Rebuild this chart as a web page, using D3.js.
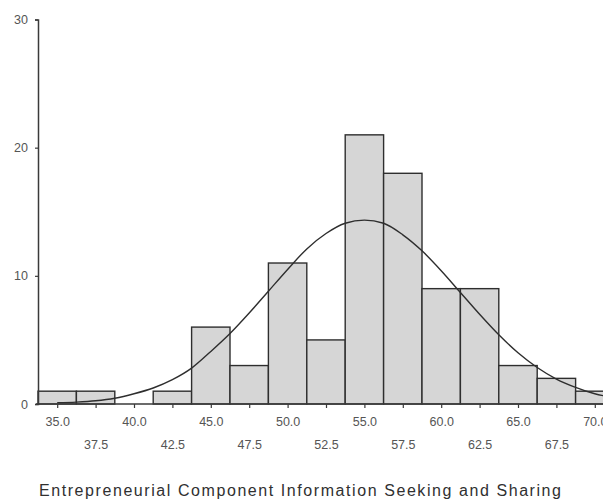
<!DOCTYPE html>
<html>
<head>
<meta charset="utf-8">
<script src="https://cdn.jsdelivr.net/npm/d3@7"></script>
<style>
  body { margin: 0; background: #fff; }
  svg { display: block; font-family: "Liberation Sans", Arial, sans-serif; }
</style>
</head>
<body>
<script>
// bin midpoints and counts
const binMids = [35.0, 37.5, 40.0, 42.5, 45.0, 47.5, 50.0, 52.5, 55.0, 57.5, 60.0, 62.5, 65.0, 67.5, 70.0];
const binCounts = [1, 1, 0, 1, 6, 3, 11, 5, 21, 18, 9, 9, 3, 2, 1];
const binWidth = 2.5;

// fitted normal curve, heights read at bin edges / midpoints
const curveX = [35, 36.25, 37.5, 38.75, 40, 41.25, 42.5, 43.75, 45, 46.25, 47.5, 48.75, 50, 51.25, 52.5,
  53.75, 55, 56.25, 57.5, 58.75, 60, 61.25, 62.5, 63.75, 65, 66.25, 67.5, 68.75, 70, 71.25, 72.5];
const curveY = [0.1, 0.15, 0.25, 0.45, 0.8, 1.25, 1.9, 2.8, 4.1, 5.5, 7.1, 8.8, 10.5, 12.1, 13.3,
  14.1, 14.35, 14.1, 13.2, 11.95, 10.4, 8.7, 7.0, 5.4, 4.0, 2.85, 1.95, 1.3, 0.8, 0.5, 0.3];

const yTicks = [0, 10, 20, 30];
const xTitle = "Entrepreneurial Component Information Seeking and Sharing";

const width = 603, height = 500;
const x = d3.scaleLinear().domain([33.75, 71.25]).range([38, 614]);
const y = d3.scaleLinear().domain([0, 30]).range([404, 19.5]);

const svg = d3.select("body").append("svg")
  .attr("width", width)
  .attr("height", height);

// bars
svg.append("g").selectAll("rect")
  .data(binMids.map((m, i) => ({ m: m, c: binCounts[i] })).filter(d => d.c > 0))
  .enter().append("rect")
  .attr("x", d => x(d.m - binWidth / 2))
  .attr("y", d => y(d.c))
  .attr("width", d => x(d.m + binWidth / 2) - x(d.m - binWidth / 2))
  .attr("height", d => y(0) - y(d.c))
  .attr("fill", "#d6d6d6")
  .attr("stroke", "#2e2e2e")
  .attr("stroke-width", 1.4);

// normal curve
const line = d3.line()
  .x((d, i) => x(curveX[i]))
  .y(d => y(d))
  .curve(d3.curveMonotoneX);

svg.append("path")
  .datum(curveY)
  .attr("fill", "none")
  .attr("stroke", "#2e2e2e")
  .attr("stroke-width", 1.4)
  .attr("d", line);

// y axis
const yAxis = svg.append("g")
  .attr("transform", "translate(" + x(33.75) + ",0)")
  .call(d3.axisLeft(y).tickValues(yTicks).tickSize(3).tickPadding(7).tickFormat(d3.format("d")));

// x axis
const xAxis = svg.append("g")
  .attr("transform", "translate(0," + y(0) + ")")
  .call(d3.axisBottom(x).tickValues(binMids).tickSize(4).tickPadding(9).tickFormat(d3.format(".1f")));

xAxis.select(".domain").attr("d", "M" + (x(33.75) - 2) + ",0H" + width);

xAxis.selectAll(".tick text")
  .attr("y", (d, i) => i % 2 ? 36 : 13);

[yAxis, xAxis].forEach(ax => {
  ax.select(".domain").attr("stroke", "#3a3a3a").attr("stroke-width", 1.5);
  ax.selectAll(".tick line").attr("stroke", "#3a3a3a").attr("stroke-width", 1.2);
  ax.selectAll(".tick text").attr("fill", "#555").style("font-size", "12.5px");
});

// x title
svg.append("text")
  .attr("x", 300)
  .attr("y", 496)
  .attr("text-anchor", "middle")
  .attr("fill", "#303030")
  .attr("textLength", 522)
  .attr("lengthAdjust", "spacing")
  .style("font-size", "16px")
  .text(xTitle);
</script>
</body>
</html>
